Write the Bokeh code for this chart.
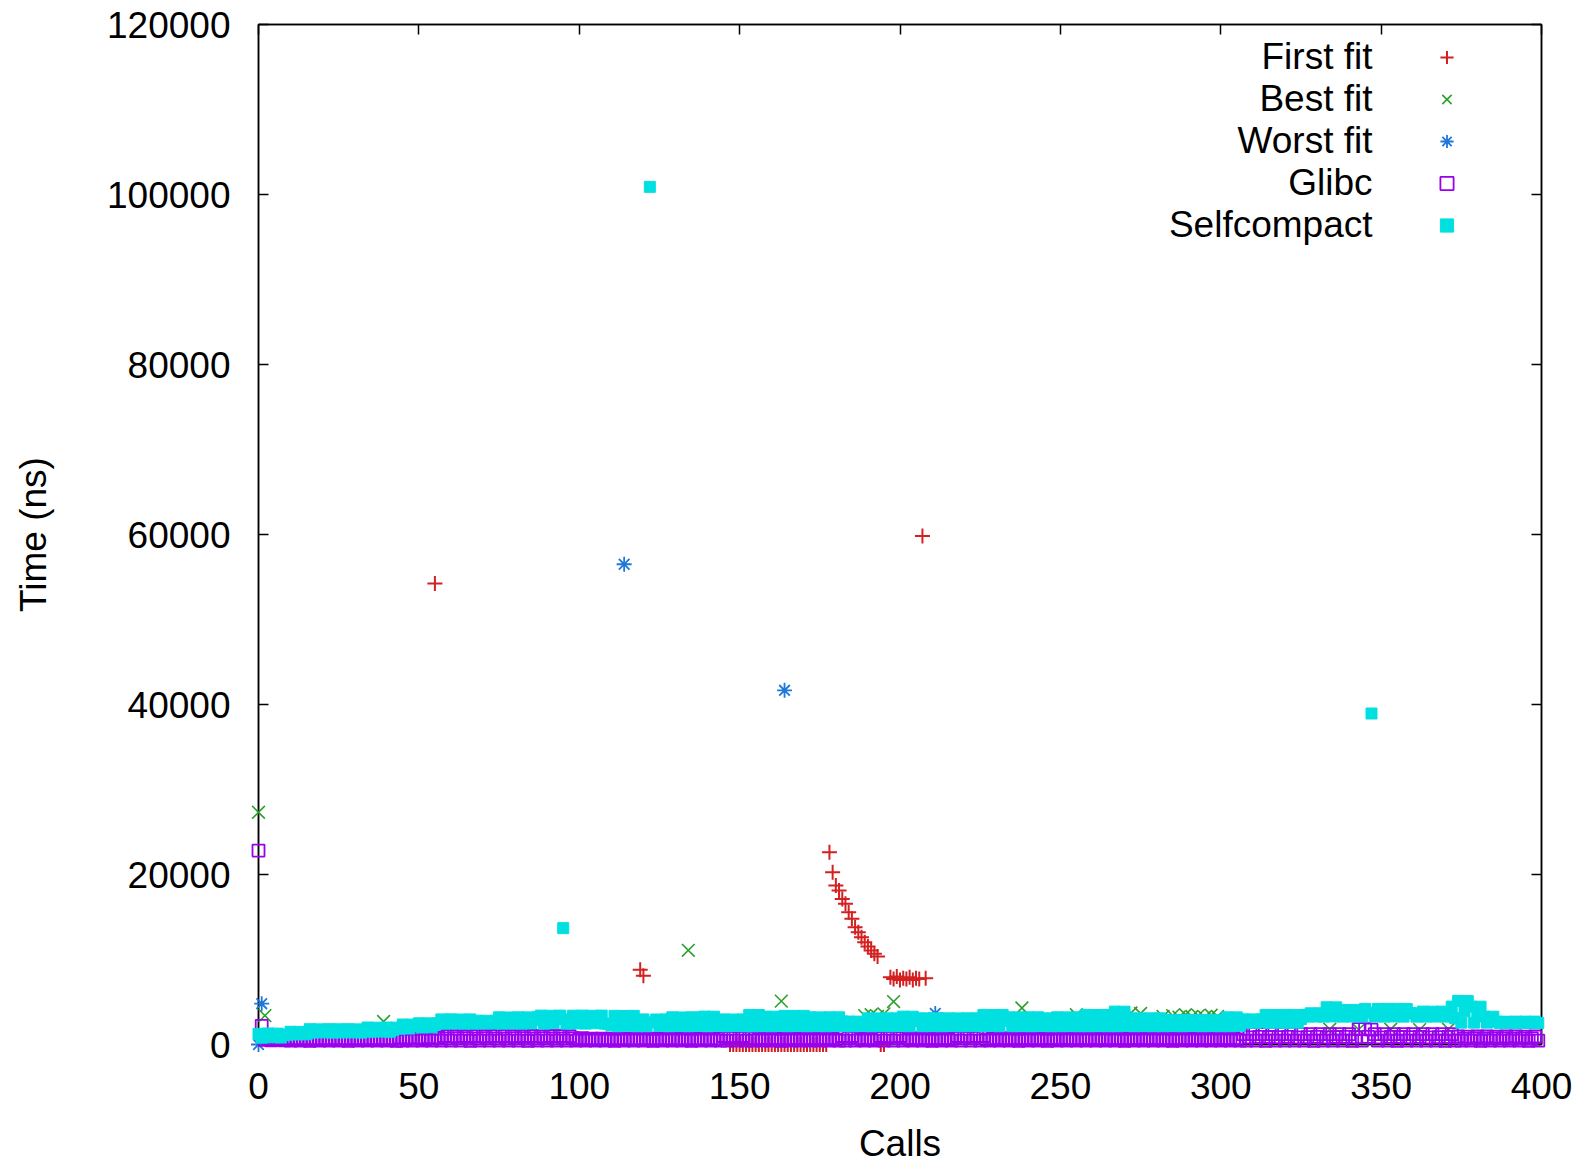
from bokeh.plotting import figure
from bokeh.models import (Range1d, FixedTicker, LinearAxis, Legend, LegendItem, Label,
                          CustomJSTickFormatter, BasicTickFormatter)
from bokeh.core.properties import value
from bokeh.embed import file_html
from bokeh.resources import INLINE

x_ticks = [0, 50, 100, 150, 200, 250, 300, 350, 400]
y_ticks = [0, 20000, 40000, 60000, 80000, 100000, 120000]
series_names = ["First fit", "Best fit", "Worst fit", "Glibc", "Selfcompact"]
x_title = "Calls"
y_title = "Time (ns)"

first_fit_calls = [55, 119, 120,
                   147, 148, 149, 150, 151, 152, 153, 154, 155, 156, 157, 158, 159, 160, 161,
                   162, 163, 164, 165, 166, 167, 168, 169, 170, 171, 172, 173, 174, 175, 176, 177,
                   178, 179, 180, 181, 182, 183, 184, 185, 186, 187, 188, 189, 190, 191, 192, 193,
                   194, 195,
                   197, 198, 199, 200, 201, 202, 203, 204, 205, 206, 207, 208]
first_fit_ns = [54240, 8800, 8100,
                0, 0, 0, 0, 0, 0, 0, 0, 0, 0, 0, 0, 0, 0, 0,
                0, 0, 0, 0, 0, 0, 0, 0, 0, 0, 0, 0, 0, 0, 0, 0,
                22620, 20260, 18700, 18110, 17130, 16550, 15560, 14780, 13790, 13210, 12620,
                12030, 11520, 11050, 10670, 10350,
                0, 0,
                7900, 7700, 8000, 7600, 7800, 7700, 7900, 7600, 7800, 7700, 59810, 7800]

best_fit_calls = [0, 2, 39, 134, 163, 189, 191, 193, 195, 198, 238, 255, 272, 275,
                  282, 285, 287, 289, 291, 293, 295, 297, 299,
                  334, 343, 353, 362, 371]
best_fit_ns = [27320, 3400, 2700, 11080, 5100, 3400, 3500, 3300, 3600, 5050, 4300, 3500, 3700, 3650,
               3300, 3400, 3200, 3500, 3300, 3400, 3200, 3450, 3300,
               1800, 1750, 1800, 1750, 1800]

worst_fit_calls = [0, 1, 114, 164, 211]
worst_fit_ns = [0, 4800, 56500, 41670, 3650]

glibc_ns = [
    22810, 2200, 560, 700, 480, 650, 520, 700, 500,
    720, 450, 580, 710, 460, 600, 720, 440, 590, 730, 450, 570, 720, 460, 610, 710, 450, 580,
    720, 440, 600, 720, 450, 590, 710, 460, 570, 720, 450, 610, 730, 450, 590, 720, 440,
    850, 450, 650, 840, 460, 700, 850, 450, 640, 860, 450, 680, 850,
    450, 1000, 720, 460, 990, 760, 450, 1000, 740, 440, 1000, 720, 460, 990, 750, 450, 1000, 730,
    450, 1000, 720, 460, 990, 760, 450, 1000, 740, 440, 1000, 720, 460, 990, 750, 450, 1000, 730,
    450, 1000, 720, 460, 990,
    740, 450, 600, 740, 460, 620,
    700, 450, 580, 690, 460, 600, 700, 440, 570, 700, 450, 590, 700, 460, 580, 690, 450, 600,
    700, 440, 580, 700, 450, 570, 690, 460, 590, 700, 450, 600, 700, 440, 580, 690, 450, 590,
    700, 460, 570, 700, 450,
    1000, 450, 740, 990, 460, 760, 1000, 450, 720,
    450, 750, 600, 460, 740, 620, 450, 750, 580, 440, 750, 600, 460, 740, 620, 450, 750, 590,
    450, 750, 600, 460, 740, 610, 450, 750, 580, 450,
    1000, 450, 740, 1000,
    450, 750, 600, 460, 740, 620, 450, 750,
    1000, 450, 760, 990, 460, 740, 1000,
    450, 750, 600, 460, 740, 620, 450, 750, 580, 440, 750, 600, 460, 740, 620, 450, 750,
    1000, 450, 740, 990, 460, 760, 1000, 450, 1000,
    600, 450, 750, 610, 460, 740, 590, 450, 750, 600, 440, 750, 620, 460, 740, 580, 450, 750,
    600, 440, 750, 620, 450, 740, 590, 460, 750, 610, 450, 740, 620, 450, 750, 580, 460, 740,
    610, 450, 750, 600, 460, 740, 580, 440, 750, 620, 450, 750, 600, 460, 740, 590, 450, 750,
    620, 450, 740, 600, 440, 750, 590, 460, 750, 610, 450, 740, 600, 450, 750, 580, 460, 750,
    600, 450, 750, 610, 460, 740, 590, 450,
    1230, 450, 850, 1220, 460, 900, 1230, 440, 880, 1230, 450, 860,
    1220, 460, 900, 1230, 450, 850, 1230, 450, 870, 1220, 440, 900,
    1230, 460, 850, 1230, 450, 880, 1220, 450, 900, 1230, 440, 860,
    1800, 450, 1800, 900, 1750,
    1230, 450, 850, 1220, 460, 900, 1230, 440, 880, 1230, 450, 860,
    1220, 460, 900, 1230, 450, 850, 1230, 450, 870, 1220, 440, 900, 1230, 450,
    940, 450, 700, 930, 460, 720, 940, 440, 690, 940, 450, 710,
    930, 460, 720, 940, 450, 700, 940, 450, 710, 930, 440, 720, 940, 450,
]

selfcompact_ns = [
    1250, 800, 1050, 1300, 850, 1000, 1280, 820, 1100,
    1150, 1500, 1300, 1180, 1480, 1350, 1200,
    1800, 1400, 1600, 1780, 1420, 1550, 1800, 1400, 1650, 1790, 1410, 1580, 1800, 1420, 1600, 1780, 1400, 1620,
    2000, 1500, 1750, 1980, 1520, 1800, 2000, 1500, 1700, 1990,
    1850, 2350, 2100, 1880, 2340, 2150,
    2500, 2000, 2250, 2490, 2020, 2300, 2500,
    2950, 2450, 2700, 2960, 2480, 2750, 2940, 2450, 2650, 2950,
    2450, 2800, 2600, 2480, 2790, 2650, 2460, 2800,
    3200, 2450, 2800, 3180, 2480, 2900, 3200, 2450, 2750, 3190, 2470, 2850, 3200,
    3400, 2450, 2900, 3380, 2500, 3000, 3400, 13690, 2450, 2950, 3390, 2480, 2850, 3400, 2460, 3000,
    3380, 2500, 2900, 3400, 2450,
    2450, 2250,
    3370, 2150, 2700, 3350, 2200, 2800, 3370, 2150,
    2750, 2950, 2150, 100900, 2600, 2940, 2180, 2700, 2950,
    2150, 3200, 2700, 2170, 3180, 2600, 2150, 3200, 2800, 2180, 3190,
    3280, 2150, 2700, 3270, 2180, 2800,
    2950, 2150, 2600, 2940, 2170, 2700, 2950, 2150,
    3480, 2150, 2800, 3470,
    2160, 3280, 2700, 2150, 3270, 2800, 2180,
    3370, 2150, 2750, 3360, 2170, 2800, 3370,
    2150, 3200, 2700, 2160, 3190, 2650, 2150, 3200, 2750, 2170, 3200, 2700, 2150,
    2700, 2150, 2450, 2690, 2170, 2500,
    3080, 2150, 2600, 3070, 2160, 2700, 3080, 2150, 2650, 3080,
    2170, 3280, 2700, 2150, 3270, 2750,
    3080, 2150, 2600, 3070, 2160, 2700, 3080, 2150, 2650, 3080, 2170, 2600, 3070, 2150, 2700, 3080,
    2160, 2650, 3080,
    2150, 3480, 2800, 2180, 3470, 2900, 2150, 3480, 2800,
    3200, 2150, 2700, 3190, 2160, 2750, 3200, 2150, 2650, 3200, 2170, 2700, 3080, 2150,
    2650, 3200, 2150, 2700, 3190, 2160, 2750, 3200, 2150, 2650,
    3480, 2150, 2800, 3470, 2160, 2850, 3480, 2150, 2750,
    3870, 2150, 3000, 3860, 2200,
    3080, 2150, 2650, 3070, 2160, 2700, 3080, 2150, 2600, 3080,
    2150, 2890, 2550, 2160, 2880, 2600, 2150, 2890, 2500, 2170, 2890, 2550, 2150, 2880, 2600, 2160,
    2890, 2550, 2150, 2890,
    3200, 2150, 2700, 3190, 2200,
    2960, 2540, 2750, 2950, 2550, 2700, 2960,
    3480, 2540, 3000, 3470, 2550, 3050, 3480, 2540, 2950, 3480, 2560, 3000, 3470,
    3280, 3670, 3450, 3290, 3670,
    3280, 4380, 3800, 3300, 4370,
    4070, 3280, 3700, 4060, 3290, 3750, 4070,
    3280, 4190, 3750, 38940, 3290, 4180, 3700, 3280, 4190, 3800, 3300, 4190, 3750, 3280, 4180, 3700,
    3670, 3280, 3500,
    3870, 3280, 3600, 3860, 3290, 3550, 3870, 3280, 3600,
    4460, 3100,
    5130, 2570, 3900, 5120,
    4460, 2570, 3500, 4450,
    3280, 2570, 2900, 3270,
    2690, 2520, 2600, 2680, 2530, 2620, 2690, 2520, 2580, 2690, 2530, 2600, 2690, 2520,
]

glibc_calls = list(range(len(glibc_ns)))
selfcompact_calls = list(range(len(selfcompact_ns)))

FONT = "Liberation Sans"
FS = "37px"

p = figure(width=1580, height=1166, output_backend="svg", toolbar_location=None,
           x_range=Range1d(0, 400), y_range=Range1d(0, 120000),
           min_border_left=258, min_border_right=39, min_border_top=24, min_border_bottom=122,
           y_axis_label=y_title)
p.grid.visible = False
p.outline_line_color = "black"
p.outline_line_width = 1.5
p.background_fill_color = "white"
p.border_fill_color = "white"

p.xaxis.ticker = FixedTicker(ticks=x_ticks)
p.yaxis.ticker = FixedTicker(ticks=y_ticks)
p.yaxis.formatter = BasicTickFormatter(use_scientific=False)

for ax in (p.xaxis[0], p.yaxis[0]):
    ax.major_tick_in = 10
    ax.major_tick_out = 0
    ax.minor_tick_line_color = None
    ax.major_tick_line_color = "black"
    ax.major_tick_line_width = 1.5
    ax.axis_line_color = "black"
    ax.axis_line_width = 1.5
    ax.major_label_text_font = FONT
    ax.major_label_text_font_size = FS
    ax.major_label_text_color = "black"
    ax.axis_label_text_font = FONT
    ax.axis_label_text_font_size = FS
    ax.axis_label_text_font_style = "normal"
    ax.axis_label_text_color = "black"

p.xaxis.major_label_standoff = 28
p.yaxis.major_label_standoff = 28
p.yaxis.axis_label_standoff = 50

blank = CustomJSTickFormatter(code="return ''")
for loc, ticks in (("above", x_ticks), ("right", y_ticks)):
    ax = LinearAxis(ticker=FixedTicker(ticks=ticks), formatter=blank,
                    major_tick_in=10, major_tick_out=0, minor_tick_line_color=None,
                    major_tick_line_color="black", major_tick_line_width=1.5,
                    axis_line_color="black", axis_line_width=1.5,
                    major_label_standoff=0, major_label_text_font_size="1px")
    p.add_layout(ax, loc)

r_ff = p.scatter(first_fit_calls, first_fit_ns, marker="cross", size=15,
                 line_color="#d42020", line_width=2.0, level="overlay")
r_bf = p.scatter(best_fit_calls, best_fit_ns, marker="x", size=18,
                 line_color="#2ca02c", line_width=1.6, level="overlay")
r_wf = p.scatter(worst_fit_calls, worst_fit_ns, marker="asterisk", size=15,
                 line_color="#1f78d8", line_width=1.8, level="overlay")
r_gl = p.scatter(glibc_calls, glibc_ns, marker="square", size=12, fill_color=None,
                 line_color="#9900ee", line_width=1.8, level="overlay")
r_sc = p.scatter(selfcompact_calls, selfcompact_ns, marker="square", size=11,
                 fill_color="#00e0e0", line_color="#00e0e0", line_width=1, level="overlay")

# x-axis title, centred under the tick labels (text glyph drawn unclipped, below the frame)
p.text(x=[200], y=[-11600], text=[x_title], text_align="center", text_baseline="middle",
       text_font=value(FONT), text_font_size=value(FS), text_color="black", level="overlay")

renderers = [r_ff, r_bf, r_wf, r_gl, r_sc]
# legend keys (markers) at the right; names drawn right-aligned to their left
legend = Legend(items=[LegendItem(label="", renderers=[r]) for r in renderers],
                location=(1172, 798), orientation="vertical",
                glyph_width=33, glyph_height=42, label_height=42, label_width=0,
                label_standoff=0, label_text_font_size="1px",
                padding=0, spacing=0, margin=0,
                border_line_color=None, background_fill_alpha=0)
p.add_layout(legend)
for i, name in enumerate(series_names):
    p.add_layout(Label(x=1114, y=988 - 42 * i, x_units="screen", y_units="screen", text=name,
                       text_align="right", text_baseline="middle",
                       text_font=FONT, text_font_size=FS, text_color="black"))

open("out.html", "w").write(file_html(p, INLINE))
